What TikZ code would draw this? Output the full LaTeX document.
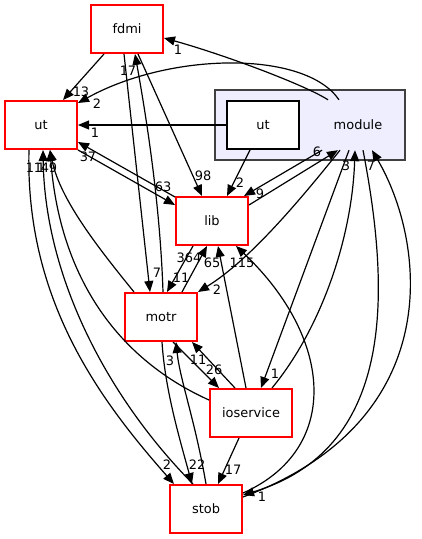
\documentclass[tikz,border=0pt]{standalone}
\usepackage{fontspec}
\setmainfont{DejaVu Sans}
\usetikzlibrary{arrows.meta}
\definecolor{clusterfill}{HTML}{EEEEFF}
\definecolor{clusterline}{HTML}{404040}
\definecolor{boxred}{HTML}{FF0000}
\begin{document}
\begin{tikzpicture}[x=1bp,y=-1bp,
  box/.style={draw=boxred,fill=white,line width=2bp,minimum width=72bp,minimum height=48bp,inner sep=0pt,font=\fontsize{13}{15}\selectfont},
  lbl/.style={inner sep=0pt,font=\fontsize{13}{15}\selectfont},
  dep/.style={line width=1.2bp,-{Triangle[length=11bp,width=9bp]}}]
\useasboundingbox[fill=white] (0,0) rectangle (421,539);
% cluster
\node[draw=clusterline,fill=clusterfill,line width=2bp,minimum width=190bp,minimum height=70bp,inner sep=0pt] (cluster) at (310,125) {};
\node[lbl,minimum width=80bp,minimum height=50bp] (modpt) at (358,125) {module};
\node[box,draw=black] (utin) at (263,125) {ut};
% nodes
\node[box] (fdmi) at (127,29) {fdmi};
\node[box] (ut) at (41,125) {ut};
\node[box] (lib) at (212,221) {lib};
\node[box] (motr) at (161,317) {motr};
\node[box,minimum width=82bp] (ioservice) at (251,413) {ioservice};
\node[box] (stob) at (206,509) {stob};
% edges
\draw[dep] ([xshift=-30bp]modpt.north) .. controls (305,85) and (225,55) .. ([yshift=-9bp]fdmi.east);
\draw[dep] ([xshift=-19bp]modpt.north) .. controls (305,50) and (170,52) .. ([yshift=-3bp]ut.north east);
\draw[dep] (utin.west) -- (ut.east);
\draw[dep] ([xshift=-23bp]fdmi.south) -- ([xshift=22bp]ut.north);
\draw[dep] ([xshift=11bp]fdmi.south) -- ([xshift=-10bp]lib.north);
\draw[dep] ([xshift=-3bp]fdmi.south) -- ([xshift=-11bp]motr.north);
\draw[dep] ([xshift=2bp]motr.north) .. controls (160,200) and (145,110) .. ([xshift=8bp]fdmi.south);
\draw[dep] (ut.south east) -- ([yshift=16bp]lib.west);
\draw[dep] ([yshift=-1bp]lib.north west) -- ([yshift=-17bp]ut.east);
\draw[dep] ([xshift=-13bp]utin.south) -- ([xshift=15bp]lib.north);
\draw[dep] ([xshift=-36bp]modpt.south) -- ([xshift=-5bp]lib.north east);
\draw[dep] ([yshift=16bp]lib.east) -- ([xshift=-20bp]modpt.south);
\draw[dep] ([xshift=-18bp]modpt.south) .. controls (300,200) and (250,260) .. (motr.north east);
\draw[dep] ([xshift=-9bp]modpt.south) -- ([xshift=10bp]ioservice.north);
\draw[dep] ([xshift=21bp]ioservice.north) .. controls (320,330) and (352,240) .. ([xshift=-3bp]modpt.south);
\draw[dep] ([xshift=5bp]modpt.south) .. controls (392,300) and (392,450) .. ([yshift=14bp]stob.east);
\draw[dep] ([yshift=12bp]stob.east) .. controls (450,420) and (425,240) .. ([xshift=14bp]modpt.south);
\draw[dep] ([yshift=16bp]stob.east) .. controls (340,450) and (335,340) .. ([xshift=24bp]lib.south);
\draw[dep] ([xshift=-19bp]lib.south) -- ([xshift=6bp]motr.north);
\draw[dep] ([xshift=21bp]motr.north) -- ([xshift=-5bp]lib.south);
\draw[dep] ([xshift=-5bp]ioservice.north) -- ([xshift=6bp]lib.south);
\draw[dep] ([xshift=12bp]motr.south) -- ([xshift=10bp]ioservice.north west);
\draw[dep] ([xshift=-16bp]ioservice.north) -- ([xshift=31bp]motr.south);
\draw[dep] (stob.north) .. controls (195,420) and (180,380) .. ([xshift=15bp]motr.south);
\draw[dep] ([xshift=1bp]motr.south) .. controls (165,390) and (180,440) .. ([xshift=-14bp]stob.north);
\draw[dep] ([xshift=-12bp]ioservice.south) -- ([xshift=12bp]stob.north);
\draw[dep] ([xshift=-12bp]ut.south) .. controls (25,300) and (100,400) .. ([xshift=5bp]stob.north west);
\draw[dep] ([xshift=-13bp]stob.north) .. controls (110,400) and (45,280) .. ([xshift=2bp]ut.south);
\draw[dep] ([yshift=13bp]ioservice.west) .. controls (120,360) and (60,280) .. ([xshift=9bp]ut.south);
\draw[dep] ([xshift=10bp]motr.north west) .. controls (100,250) and (60,200) .. ([xshift=9bp]ut.south);
% labels
\node[lbl] (l1) at (178,50) {1};
\node[lbl] (l2) at (97,104) {2};
\node[lbl] (l3) at (95,133) {1};
\node[lbl] (l4) at (81,92) {13};
\node[lbl] (l5) at (128,71) {17};
\node[lbl] (l6) at (203,176) {98};
\node[lbl] (l7) at (88,157) {37};
\node[lbl] (l8) at (163,187) {63};
\node[lbl] (l9) at (157,273) {7};
\node[lbl] (l10) at (240,183) {2};
\node[lbl] (l11) at (260,194) {9};
\node[lbl] (l12) at (317,152) {6};
\node[lbl] (l13) at (346,166) {3};
\node[lbl] (l14) at (371,166) {7};
\node[lbl] (l15) at (189,258) {364};
\node[lbl] (l16) at (181,278) {11};
\node[lbl] (l17) at (212,263) {65};
\node[lbl] (l18) at (242,263) {115};
\node[lbl] (l19) at (217,290) {2};
\node[lbl] (l20) at (275,374) {1};
\node[lbl] (l21) at (214,370) {26};
\node[lbl] (l22) at (198,360) {11};
\node[lbl] (l23) at (170,361) {3};
\node[lbl] (l24) at (167,465) {2};
\node[lbl] (l25) at (197,465) {22};
\node[lbl] (l26) at (233,470) {17};
\node[lbl] (l27) at (262,497) {1};
\node[lbl] (l28) at (34,168) {11};
\node[lbl] (l29) at (41,168) {1};
\node[lbl] (l30) at (49,168) {49};
\end{tikzpicture}
\end{document}
